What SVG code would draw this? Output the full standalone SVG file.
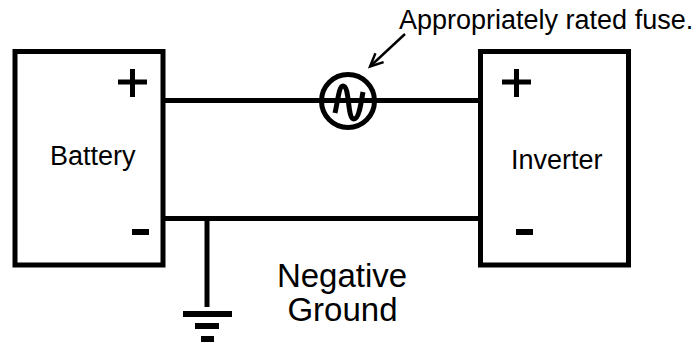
<svg xmlns="http://www.w3.org/2000/svg" width="696" height="343" viewBox="0 0 696 343">
<style>
.s{fill:none;stroke:#000;stroke-width:5}
.b{fill:#000;stroke:none}
text{font-family:"Liberation Sans",Arial,sans-serif;fill:#000}
.m{font-size:27px}
.l{font-size:33px;text-anchor:middle}
</style>
<defs>
<marker id="arr" markerUnits="userSpaceOnUse" markerWidth="20" markerHeight="20" refX="14" refY="7" orient="auto"><path d="M1 1L14 7L1 13" fill="none" stroke="#000" stroke-width="2.4"/></marker>
</defs>
<rect width="696" height="343" fill="#fff"/>
<g id="connectors">
<path class="s" d="M163 100.5H480.5"/>
<path class="s" d="M163 218.5H480.5"/>
<path class="s" d="M207 218.5V307"/>
<path d="M405 34L370 66.500" fill="none" stroke="#000" stroke-width="2.400" marker-end="url(#arr)"/>
</g>
<g id="battery">
<rect class="s" x="15" y="51.5" width="148" height="213.500"/>
<path class="s" d="M118 82H147M132.500 69V97"/>
<rect class="b" x="132" y="229" width="17" height="6"/>
<text class="m" x="50" y="165">Battery</text>
</g>
<g id="inverter">
<rect class="s" x="480.500" y="51.500" width="148" height="213.500"/>
<path class="s" d="M502 82H531M516.500 69V97"/>
<rect class="b" x="516" y="229" width="17" height="6"/>
<text class="m" x="511" y="169">Inverter</text>
</g>
<g id="fuse">
<circle class="s" cx="348" cy="101" r="26.500"/>
<path class="s" d="M335 113C338 100 339 86 343 86C350 86 347 119 354 119C359 119 361 103 363 92"/>
</g>
<g id="fuse-label"><text class="m" x="399" y="29">Appropriately rated fuse.</text></g>
<g id="ground">
<rect class="b" x="183" y="311" width="49" height="6"/>
<rect class="b" x="195" y="323" width="24" height="6"/>
<rect class="b" x="201" y="336" width="13" height="6"/>
</g>
<g id="note">
<text class="l" x="342" y="287">Negative</text>
<text class="l" x="342.500" y="321">Ground</text>
</g>
</svg>
